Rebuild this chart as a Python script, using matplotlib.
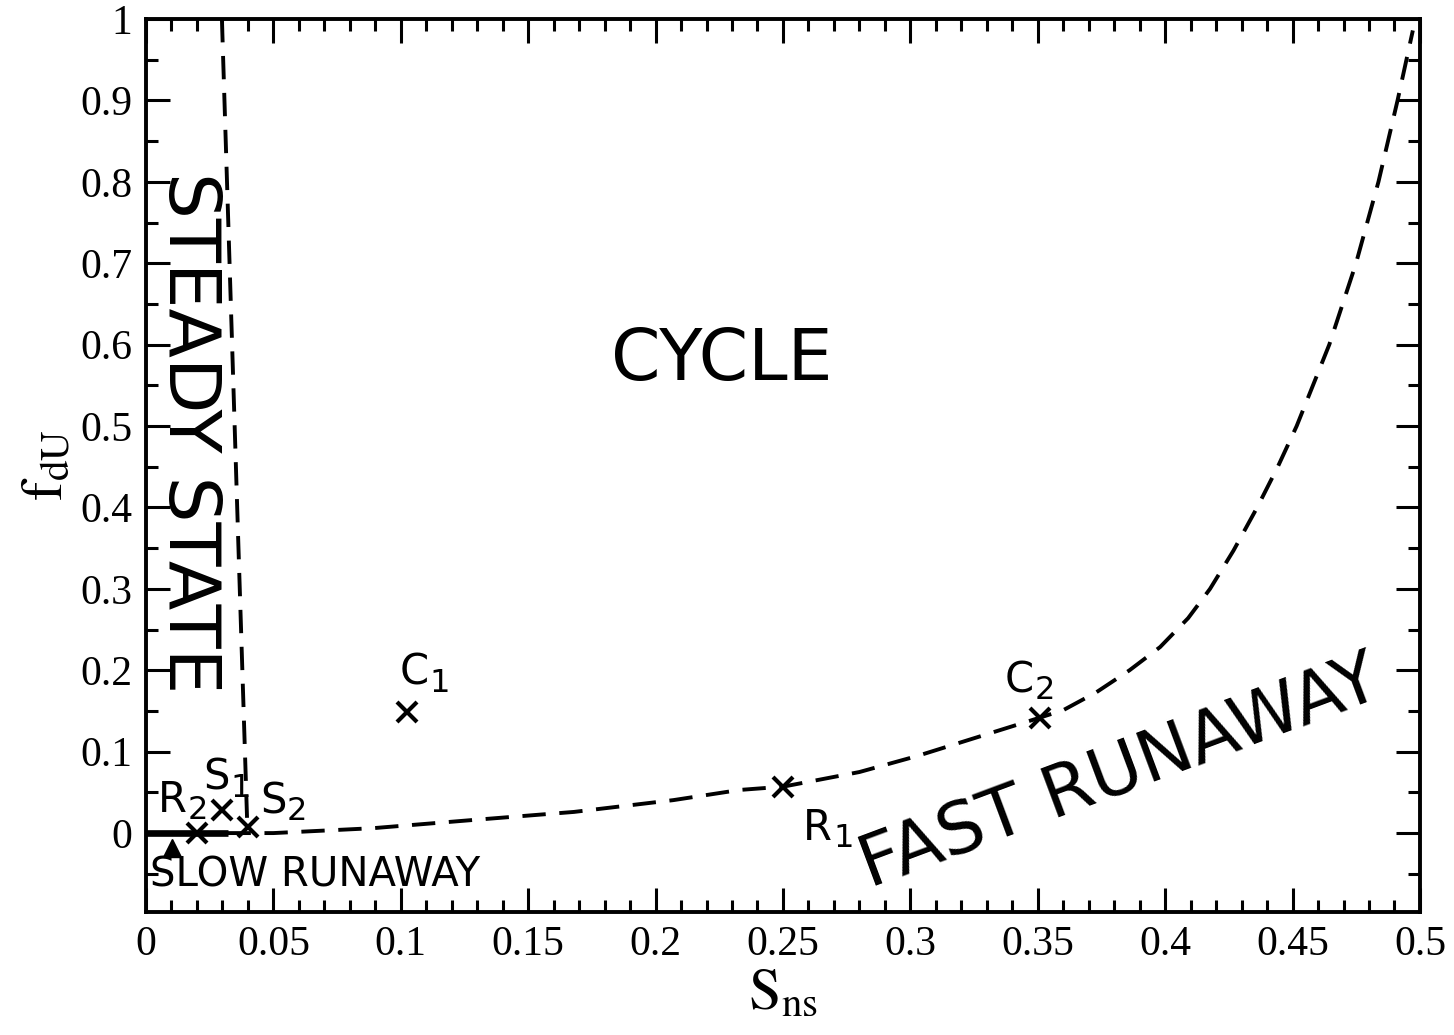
import matplotlib.pyplot as plt
from matplotlib.ticker import MultipleLocator

plt.rcParams['mathtext.fontset'] = 'stix'

# boundary curves
steady_x = [0.0298, 0.0330, 0.0362, 0.0398]
steady_y = [1.0, 0.68, 0.36, 0.005]

fast_x = [0.032, 0.05, 0.089, 0.128, 0.168, 0.207, 0.233, 0.25, 0.28, 0.3026, 0.35, 0.36, 0.373,
          0.386, 0.398, 0.409, 0.4176, 0.4268, 0.4361, 0.4442, 0.4516, 0.4644, 0.4749, 0.4837,
          0.4912, 0.4972]
fast_y = [0.0, 0.0, 0.006, 0.016, 0.026, 0.0405, 0.053, 0.057, 0.075, 0.0946, 0.141, 0.151, 0.173,
          0.2, 0.2285, 0.264, 0.3, 0.347, 0.4, 0.45, 0.5, 0.6, 0.7, 0.8,
          0.9, 0.986]

slow_x = [0.0, 0.032]
slow_y = [0.0, 0.0]

# marked points
pt_letters = ['R', 'S', 'S', 'C', 'C', 'R']
pt_subs = ['2', '1', '2', '1', '2', '1']
pt_x = [0.02, 0.03, 0.04, 0.1024, 0.351, 0.25]
pt_y = [0.0, 0.028, 0.0075, 0.1486, 0.141, 0.0565]
lab_x = [0.0047, 0.0224, 0.0447, 0.0997, 0.337, 0.258]
lab_y = [0.0258, 0.053, 0.0246, 0.182, 0.173, -0.0086]

arrow_x = [0.0102]
arrow_y = [-0.018]

xticks = [0, 0.05, 0.1, 0.15, 0.2, 0.25, 0.3, 0.35, 0.4, 0.45, 0.5]
xticklabels = ['0', '0.05', '0.1', '0.15', '0.2', '0.25', '0.3', '0.35', '0.4', '0.45', '0.5']
yticks = [0, 0.1, 0.2, 0.3, 0.4, 0.5, 0.6, 0.7, 0.8, 0.9, 1.0]
yticklabels = ['0', '0.1', '0.2', '0.3', '0.4', '0.5', '0.6', '0.7', '0.8', '0.9', '1']

fig = plt.figure(figsize=(14.54, 10.35), dpi=100)
ax = fig.add_axes([0.1004, 0.1188, 0.8762, 0.8628])

ax.plot(steady_x, steady_y, color='black', lw=2.8, dashes=(6, 3.5))
ax.plot(fast_x, fast_y, color='black', lw=2.8, dashes=(6, 3.5))
ax.plot(slow_x, slow_y, color='black', lw=4.8, solid_capstyle='butt')
ax.plot(pt_x, pt_y, 'x', color='black', ms=15, mew=3, ls='none')
ax.plot(arrow_x, arrow_y, '^', color='black', ms=13, ls='none')

ax.set_xlim(0, 0.5)
ax.set_ylim(-0.097, 1.0)

# letter + lowered subscript, as in the original
fig.canvas.draw()
renderer = fig.canvas.get_renderer()
for let, sub, x, y in zip(pt_letters, pt_subs, lab_x, lab_y):
    t = ax.text(x, y, let, fontsize=30, family='DejaVu Sans', ha='left', va='baseline')
    w = t.get_window_extent(renderer).width * 72 / fig.dpi
    ax.annotate(sub, (x, y), xytext=(w + 0.5, -5), textcoords='offset points',
                fontsize=23, family='DejaVu Sans', ha='left', va='baseline')

ax.text(0.226, 0.581, 'CYCLE', fontsize=51, family='DejaVu Sans', ha='center', va='center')
ax.text(0.0166, 0.492, 'STEADY STATE', fontsize=52, family='DejaVu Sans',
        rotation=-90, ha='center', va='center')
ax.text(0.284, -0.068, 'FAST RUNAWAY', fontsize=51.5, family='DejaVu Sans',
        rotation=20.5, rotation_mode='anchor', ha='left', va='baseline')
ax.text(0.0016, -0.066, 'SLOW RUNAWAY', fontsize=29, family='DejaVu Sans',
        ha='left', va='baseline')

ax.set_xticks(xticks)
ax.set_xticklabels(xticklabels, family='Liberation Serif', fontsize=30)
ax.set_yticks(yticks)
ax.set_yticklabels(yticklabels, family='Liberation Serif', fontsize=30)
ax.xaxis.set_minor_locator(MultipleLocator(0.01))
ax.yaxis.set_minor_locator(MultipleLocator(0.05))
ax.tick_params(which='both', direction='in', top=True, right=True, width=2.2)
ax.tick_params(which='major', length=17, pad=10)
ax.tick_params(which='minor', length=8.5)
for s in ax.spines.values():
    s.set_linewidth(2.8)

ax.set_xlabel(r'$\mathrm{S}_{\mathrm{ns}}$', fontsize=42, labelpad=0)
ax.set_ylabel(r'$\mathrm{f}_{\mathrm{dU}}$', fontsize=42, labelpad=4)

fig.savefig('out.png', dpi=100)
